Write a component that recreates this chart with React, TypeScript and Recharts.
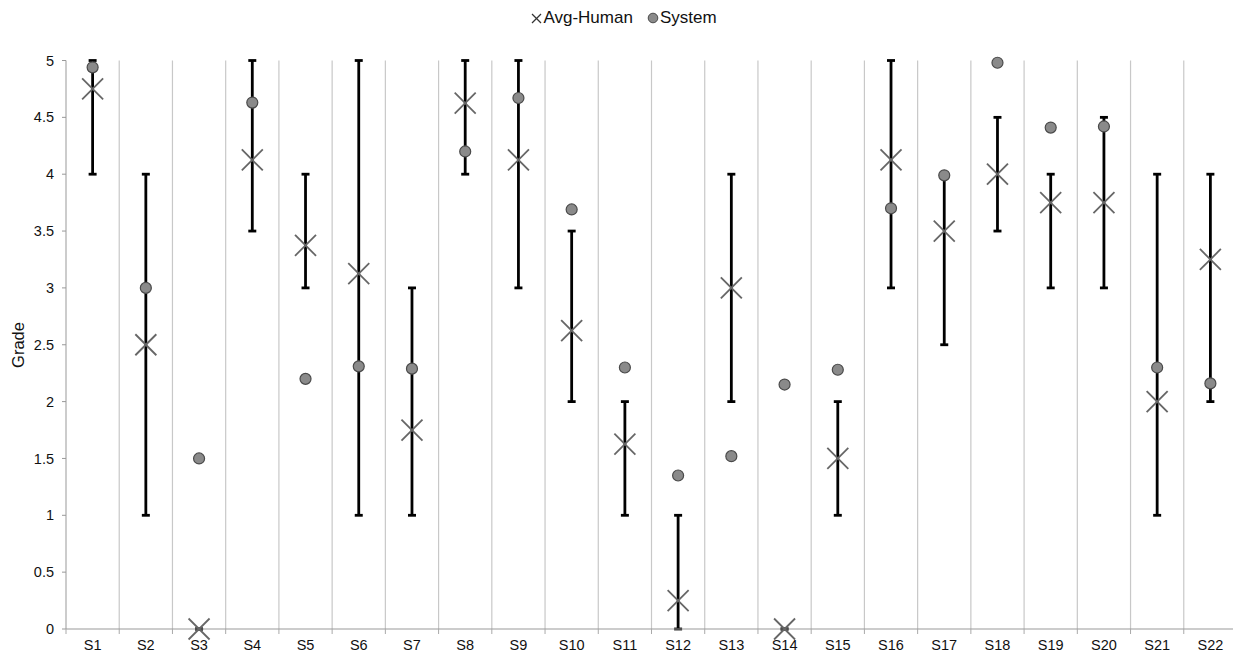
import { CartesianGrid, ComposedChart, ErrorBar, Legend, Scatter, XAxis, YAxis } from "recharts"

const categories = ["S1", "S2", "S3", "S4", "S5", "S6", "S7", "S8", "S9", "S10", "S11", "S12", "S13", "S14", "S15", "S16", "S17", "S18", "S19", "S20", "S21", "S22"]
const avgHuman = [4.75, 2.5, 0, 4.125, 3.375, 3.125, 1.75, 4.625, 4.125, 2.625, 1.625, 0.25, 3, 0, 1.5, 4.125, 3.5, 4, 3.75, 3.75, 2, 3.25]
const humanMin = [4, 1, 0, 3.5, 3, 1, 1, 4, 3, 2, 1, 0, 2, 0, 1, 3, 2.5, 3.5, 3, 3, 1, 2]
const humanMax = [5, 4, 0, 5, 4, 5, 3, 5, 5, 3.5, 2, 1, 4, 0, 2, 5, 4, 4.5, 4, 4.5, 4, 4]
const systemScores = [4.94, 3.0, 1.5, 4.63, 2.2, 2.31, 2.29, 4.2, 4.67, 3.69, 2.3, 1.35, 1.52, 2.15, 2.28, 3.7, 3.99, 4.98, 4.41, 4.42, 2.3, 2.16]
const yTicks = [0, 0.5, 1, 1.5, 2, 2.5, 3, 3.5, 4, 4.5, 5]

const data = categories.map((name, i) => ({
  name,
  avg: avgHuman[i],
  system: systemScores[i],
  err: [avgHuman[i] - humanMin[i], humanMax[i] - avgHuman[i]],
}))

const FONT = "'Liberation Sans', Arial, Helvetica, sans-serif"
const CHART_W = 1240
const CHART_H = 656
const PLOT_LEFT = 66
const PLOT_RIGHT = 1237
const PLOT_TOP = 60.5
const PLOT_BOTTOM = 629
const BAND = (PLOT_RIGHT - PLOT_LEFT) / categories.length

function CrossShape(props: any) {
  const { cx, cy } = props
  if (cx == null || cy == null) return null
  const s = 10.5
  return (
    <g stroke="#666" strokeWidth={1.8} fill="none">
      <line x1={cx - s} y1={cy - s} x2={cx + s} y2={cy + s} />
      <line x1={cx - s} y1={cy + s} x2={cx + s} y2={cy - s} />
    </g>
  )
}

function DotShape(props: any) {
  const { cx, cy } = props
  if (cx == null || cy == null) return null
  return <circle cx={cx} cy={cy} r={5.5} fill="#8a8a8a" stroke="#4a4a4a" strokeWidth={1.2} />
}

function CategoryTick(props: any) {
  const { x, payload, index } = props
  const left = x - BAND / 2
  return (
    <g>
      <line x1={left} y1={PLOT_BOTTOM} x2={left} y2={PLOT_BOTTOM + 5} stroke="#aaa" />
      {index === categories.length - 1 && (
        <line x1={x + BAND / 2} y1={PLOT_BOTTOM} x2={x + BAND / 2} y2={PLOT_BOTTOM + 5} stroke="#aaa" />
      )}
      <text x={x} y={650} textAnchor="middle" fontSize={14.5} fontFamily={FONT} fill="#111">
        {payload.value}
      </text>
    </g>
  )
}

function GradeLabel() {
  return (
    <text
      x={18}
      y={345}
      transform="rotate(-90 18 345)"
      textAnchor="middle"
      dominantBaseline="central"
      fontSize={16.5}
      fontFamily={FONT}
      fill="#111"
    >
      Grade
    </text>
  )
}

function LegendContent() {
  return (
    <div style={{ display: "flex", justifyContent: "center", alignItems: "center", fontFamily: FONT, fontSize: 17, color: "#111" }}>
      <svg width={11} height={11} style={{ marginRight: 1 }}>
        <line x1={1} y1={1} x2={10} y2={10} stroke="#333" strokeWidth={1.2} />
        <line x1={1} y1={10} x2={10} y2={1} stroke="#333" strokeWidth={1.2} />
      </svg>
      <span>Avg-Human</span>
      <svg width={12} height={12} style={{ marginLeft: 14, marginRight: 1 }}>
        <circle cx={6} cy={6} r={4.8} fill="#8a8a8a" stroke="#4a4a4a" strokeWidth={1} />
      </svg>
      <span>System</span>
    </div>
  )
}

export default function App() {
  return (
    <div style={{ position: "absolute", left: 0, top: 0, width: 1233, height: CHART_H, overflow: "hidden", background: "#fff" }}>
      <ComposedChart
        width={CHART_W}
        height={CHART_H}
        data={data}
        margin={{ top: PLOT_TOP, right: CHART_W - PLOT_RIGHT, bottom: 0, left: 0 }}
      >
        <CartesianGrid
          horizontal={false}
          stroke="#c8c8c8"
          strokeWidth={1.2}
          verticalCoordinatesGenerator={({ offset }: any) =>
            categories.map((_, i) => offset.left + ((i + 1) * offset.width) / categories.length)
          }
        />
        <XAxis
          dataKey="name"
          type="category"
          scale="point"
          padding={{ left: BAND / 2, right: BAND / 2 }}
          height={CHART_H - PLOT_BOTTOM}
          interval={0}
          axisLine={{ stroke: "#999" }}
          tickLine={false}
          tick={<CategoryTick />}
        />
        <YAxis
          type="number"
          domain={[0, 5]}
          ticks={yTicks}
          width={PLOT_LEFT}
          axisLine={{ stroke: "#999" }}
          tickLine={{ stroke: "#999" }}
          tickSize={4}
          tickMargin={8}
          tick={{ fontSize: 14.5, fontFamily: FONT, fill: "#111" }}
          label={<GradeLabel />}
        />
        <Legend
          verticalAlign="middle"
          align="center"
          content={<LegendContent />}
          wrapperStyle={{ top: 8, left: 0, width: 1248 }}
        />
        <Scatter name="Avg-Human" dataKey="avg" shape={<CrossShape />} isAnimationActive={false}>
          <ErrorBar dataKey="err" direction="y" width={4} strokeWidth={2.8} stroke="#000" />
        </Scatter>
        <Scatter name="System" dataKey="system" shape={<DotShape />} isAnimationActive={false} />
      </ComposedChart>
    </div>
  )
}
